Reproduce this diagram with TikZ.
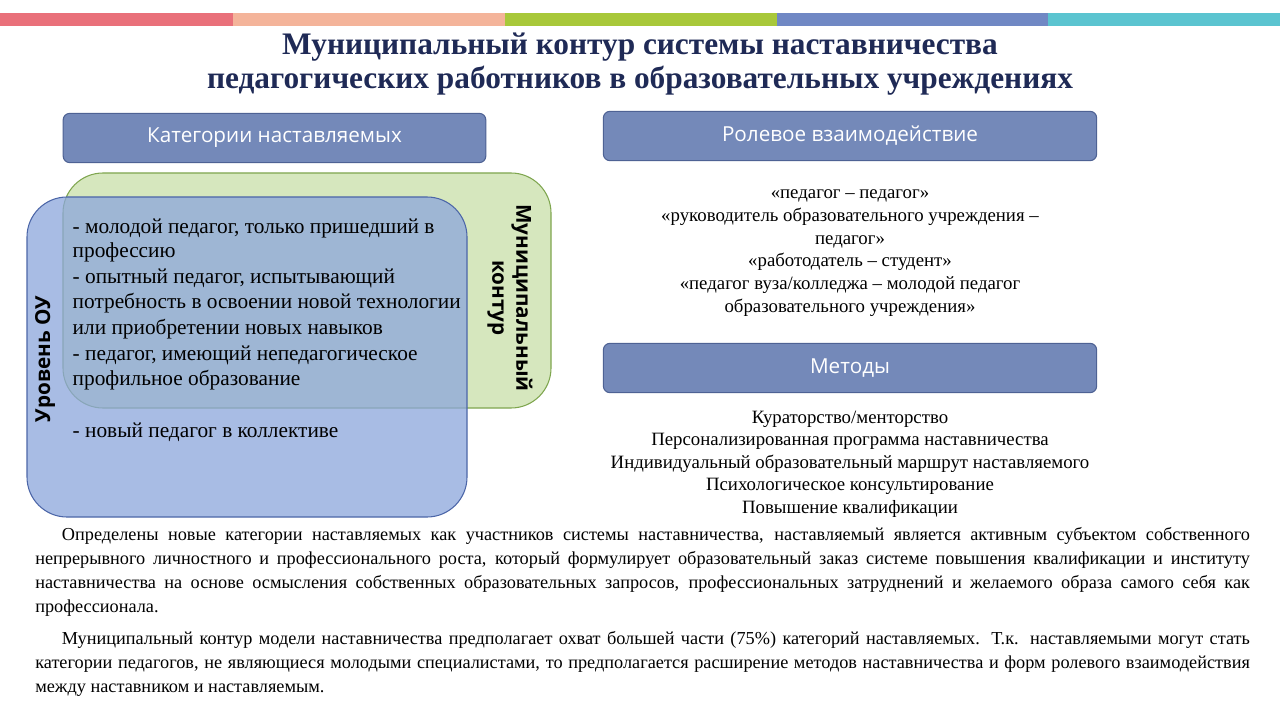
\documentclass[tikz,border=0pt]{standalone}
\usepackage{fontspec}
\setmainfont{Liberation Serif}
\newfontfamily\boxfont{Open Sans}
\definecolor{cA}{HTML}{E9707A}
\definecolor{cB}{HTML}{F4B49A}
\definecolor{cC}{HTML}{A8C83A}
\definecolor{cD}{HTML}{7088C4}
\definecolor{cE}{HTML}{5BC4D0}
\definecolor{hdr}{HTML}{7489B9}
\definecolor{hdrb}{HTML}{4E6294}
\definecolor{grn}{HTML}{D6E7BE}
\definecolor{grnb}{HTML}{7FA64F}
\definecolor{blu}{HTML}{8CA6DC}
\definecolor{blub}{HTML}{4C66A8}
\definecolor{ttl}{HTML}{1F2A56}
\tikzset{
 hdrbox/.style={draw=hdrb,fill=hdr,rounded corners=5pt,line width=0.8pt,text=white,font=\boxfont\fontsize{15.5}{18}\selectfont},
 listtxt/.style={anchor=west,font=\fontsize{16}{19}\selectfont},
 ctxt/.style={font=\fontsize{14.1}{17}\selectfont,align=center},
 para/.style={anchor=north west,text width=911pt,align=justify,inner sep=0pt,font=\fontsize{13.7}{18}\selectfont}
}
\begin{document}
\begin{tikzpicture}[x=0.75pt,y=-0.75pt]
\useasboundingbox (0,0) rectangle (1280,720);
\fill[white] (0,0) rectangle (1280,720);
\fill[cA] (0,13) rectangle (233,26);
\fill[cB] (233,13) rectangle (505,26);
\fill[cC] (505,13) rectangle (777,26);
\fill[cD] (777,13) rectangle (1048,26);
\fill[cE] (1048,13) rectangle (1280,26);
\node[font=\bfseries\fontsize{23.5}{26}\selectfont,text=ttl,align=center] (title) at (640,64) {Муниципальный контур системы наставничества\\педагогических работников в образовательных учреждениях};
\node[hdrbox,minimum width=317pt,minimum height=37pt] (cat) at (274.5,138) {Категории наставляемых};
\node[hdrbox,minimum width=370pt,minimum height=37pt] (role) at (850,136) {Ролевое взаимодействие};
\node[hdrbox,minimum width=370pt,minimum height=37pt] (meth) at (850,368) {Методы};
\draw[grnb,fill=grn,line width=0.8pt,rounded corners=30pt] (63,173) rectangle (551,408);
\draw[blub,fill=blu,fill opacity=0.75,line width=0.8pt,rounded corners=30pt] (27,197) rectangle (467,517);
\node[rotate=90,font=\boxfont\bfseries\fontsize{15.5}{18}\selectfont] (lvl) at (45,359) {Уровень ОУ};
\node[rotate=-90,font=\boxfont\bfseries\fontsize{15.5}{18}\selectfont,align=center] (mun) at (510,298) {Муниципальный\\контур};
\node[listtxt] (l1) at (68,228) {- молодой педагог, только пришедший в};
\node[listtxt] (l2) at (68,252) {профессию};
\node[listtxt] (l3) at (68,278) {- опытный педагог, испытывающий};
\node[listtxt] (l4) at (68,303) {потребность в освоении новой технологии};
\node[listtxt] (l5) at (68,329) {или приобретении новых навыков};
\node[listtxt] (l6) at (68,355) {- педагог, имеющий непедагогическое};
\node[listtxt] (l7) at (68,380) {профильное образование};
\node[listtxt] (l8) at (68,432) {- новый педагог в коллективе};
\node[ctxt] (rt) at (850,253) {«педагог – педагог»\\«руководитель образовательного учреждения –\\педагог»\\«работодатель – студент»\\«педагог вуза/колледжа – молодой педагог\\образовательного учреждения»};
\node[ctxt,font=\fontsize{14.1}{16.9}\selectfont] (mt) at (850,464) {Кураторство/менторство\\Персонализированная программа наставничества\\Индивидуальный образовательный маршрут наставляемого\\Психологическое консультирование\\Повышение квалификации};
\node[para] (p1) at (35,527) {\hspace*{20pt}Определены новые категории наставляемых как участников системы наставничества, наставляемый является активным субъектом собственного непрерывного личностного и профессионального роста, который формулирует образовательный заказ системе повышения квалификации и институту наставничества на основе осмысления собственных образовательных запросов, профессиональных затруднений и желаемого образа самого себя как профессионала.};
\node[para] (p2) at (35,631) {\hspace*{20pt}Муниципальный контур модели наставничества предполагает охват большей части (75\%) категорий наставляемых. Т.к. наставляемыми могут стать категории педагогов, не являющиеся молодыми специалистами, то предполагается расширение методов наставничества и форм ролевого взаимодействия между наставником и наставляемым.};
\end{tikzpicture}
\end{document}
